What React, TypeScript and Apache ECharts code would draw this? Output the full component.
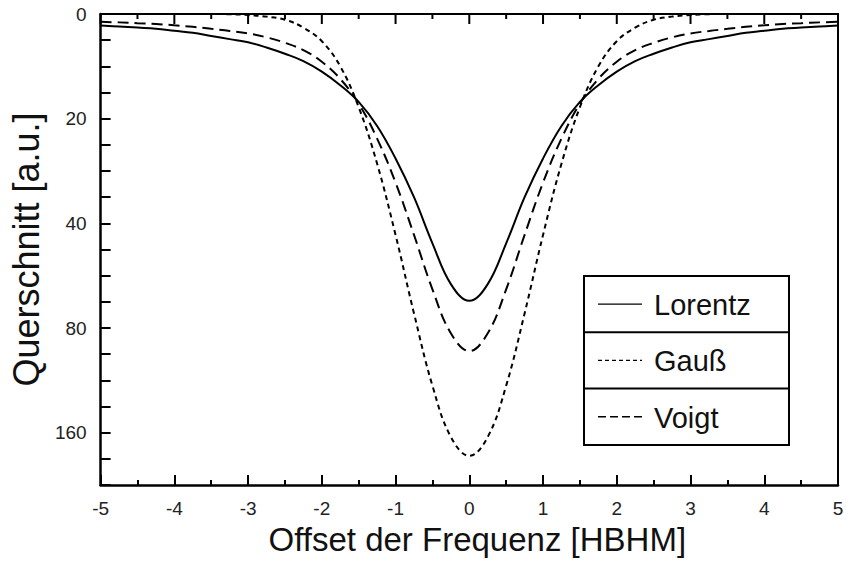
import React, { useEffect, useRef } from "react";
import * as echarts from "echarts";

const xs = [
  -5, -4.75, -4.5, -4.25, -4, -3.75, -3.5, -3.25, -3, -2.75, -2.5, -2.25, -2, -1.75, -1.5, -1.25, -1, -0.75, -0.5, -0.25,
  0, 0.25, 0.5, 0.75, 1, 1.25, 1.5, 1.75, 2, 2.25, 2.5, 2.75, 3, 3.25, 3.5, 3.75, 4, 4.25, 4.5, 4.75, 5,
];

const lorentz = [
  0.11, 0.12, 0.13, 0.14, 0.16, 0.18, 0.21, 0.24, 0.27, 0.32, 0.38, 0.45, 0.55, 0.68, 0.84, 1.07, 1.38, 1.75, 2.19, 2.58,
  2.74, 2.58, 2.19, 1.75, 1.38, 1.07, 0.84, 0.68, 0.55, 0.45, 0.38, 0.32, 0.27, 0.24, 0.21, 0.18, 0.16, 0.14, 0.13, 0.12, 0.11,
];

const gauss = [
  0, 0, 0, 0, 0, 0, 0, 0.002, 0.01, 0.025, 0.055, 0.13, 0.26, 0.5, 0.89, 1.43, 2.11, 2.86, 3.55, 4.04,
  4.22, 4.04, 3.55, 2.86, 2.11, 1.43, 0.89, 0.5, 0.26, 0.13, 0.055, 0.025, 0.01, 0.002, 0, 0, 0, 0, 0, 0, 0,
];

const voigt = [
  0.075, 0.08, 0.088, 0.095, 0.108, 0.122, 0.142, 0.162, 0.186, 0.223, 0.275, 0.345, 0.456, 0.62, 0.856, 1.19, 1.61, 2.11, 2.63, 3.05,
  3.22, 3.05, 2.63, 2.11, 1.61, 1.19, 0.856, 0.62, 0.456, 0.345, 0.275, 0.223, 0.186, 0.162, 0.142, 0.122, 0.108, 0.095, 0.088, 0.08, 0.075,
];

const yTickLabels = ["0", "20", "40", "80", "160"];
const topTickValues = [-5, -4.5, -4, -3.5, -3, -2.5, -2, -1.5, -1, -0.5, 0, 0.5, 1, 1.5, 2, 2.5, 3, 3.5, 4, 4.5, 5];
const legendNames = ["Lorentz", "Gauß", "Voigt"];

const FONT = "Liberation Sans, Arial, sans-serif";

export default function App() {
  const ref = useRef<HTMLDivElement>(null);

  useEffect(() => {
    if (!ref.current) return;
    const chart = echarts.init(ref.current, null, { renderer: "svg" });

    const toData = (vals: number[]) => xs.map((x, i) => [x, vals[i]]);

    const lineStyles = [
      { type: "solid" as any, width: 2 },
      { type: [5, 4] as any, width: 2 },
      { type: [11, 6] as any, width: 2 },
    ];
    const legendDash = ["solid", [4, 3], [8, 4]];

    const legendLeft = 584;
    const legendTop = 276;
    const legendW = 205;
    const rowH = 56.3;

    const legendElements: any[] = [
      {
        type: "rect",
        shape: { x: legendLeft, y: legendTop, width: legendW, height: rowH * 3 },
        style: { fill: "#fff", stroke: "#000", lineWidth: 2 },
        z: 100,
      },
    ];
    for (let i = 1; i < 3; i++) {
      legendElements.push({
        type: "line",
        shape: { x1: legendLeft, y1: legendTop + rowH * i, x2: legendLeft + legendW, y2: legendTop + rowH * i },
        style: { stroke: "#000", lineWidth: 2 },
        z: 101,
      });
    }
    legendNames.forEach((name, i) => {
      const cy = legendTop + rowH * i + rowH / 2;
      legendElements.push({
        type: "line",
        shape: { x1: 598, y1: cy, x2: 642, y2: cy },
        style: { stroke: "#000", lineWidth: 1.3, lineDash: legendDash[i] },
        z: 102,
      });
      legendElements.push({
        type: "text",
        x: 654,
        y: cy + 1,
        style: {
          text: name,
          fontSize: 29,
          fontFamily: FONT,
          fill: "#111",
          verticalAlign: "middle",
          align: "left",
        },
        z: 102,
      });
    });

    chart.setOption({
      animation: false,
      backgroundColor: "#fff",
      grid: { left: 100, right: 14, top: 14, bottom: 67, containLabel: false },
      xAxis: [
        {
          type: "value",
          min: -5,
          max: 5,
          interval: 1,
          position: "bottom",
          name: "Offset der Frequenz [HBHM]",
          nameLocation: "middle",
          nameGap: 36,
          nameTextStyle: { fontSize: 33, fontFamily: FONT, color: "#111", padding: [0, 0, 0, 16] },
          axisLine: { show: true, onZero: false, lineStyle: { color: "#000", width: 2.5 } },
          axisTick: { show: true, inside: true, length: 10, lineStyle: { color: "#000", width: 2 } },
          minorTick: { show: true, splitNumber: 2, length: 5, lineStyle: { color: "#000", width: 2 } },
          axisLabel: { fontSize: 19, fontFamily: FONT, color: "#222", margin: 14 },
          splitLine: { show: false },
        },
        {
          type: "value",
          min: -5,
          max: 5,
          interval: 1,
          position: "top",
          axisLine: { show: true, lineStyle: { color: "#000", width: 2 } },
          axisTick: { show: false },
          axisLabel: { show: false },
          splitLine: { show: false },
        },
      ],
      yAxis: [
        {
          type: "value",
          inverse: true,
          min: 0,
          max: 4.5,
          interval: 0.25,
          position: "left",
          name: "Querschnitt [a.u.]",
          nameLocation: "middle",
          nameGap: 50,
          nameRotate: 90,
          nameTextStyle: { fontSize: 36, fontFamily: FONT, color: "#111" },
          axisLine: { show: true, onZero: false, lineStyle: { color: "#000", width: 2.5 } },
          axisTick: { show: true, inside: true, length: 10, lineStyle: { color: "#000", width: 2 } },
          axisLabel: {
            fontSize: 19,
            fontFamily: FONT,
            color: "#222",
            margin: 14,
            formatter: (v: number) => {
              if (Number.isInteger(v) && v >= 0 && v < yTickLabels.length) return yTickLabels[v];
              return "";
            },
          },
          splitLine: { show: false },
        },
        {
          type: "value",
          inverse: true,
          min: 0,
          max: 4.5,
          position: "right",
          axisLine: { show: true, onZero: false, lineStyle: { color: "#000", width: 2 } },
          axisTick: { show: false },
          axisLabel: { show: false },
          splitLine: { show: false },
        },
      ],
      series: [
        {
          name: legendNames[0],
          type: "line",
          data: toData(lorentz),
          smooth: 0.4,
          showSymbol: false,
          lineStyle: { color: "#000", ...lineStyles[0] },
        },
        {
          name: legendNames[1],
          type: "line",
          data: toData(gauss),
          smooth: 0.4,
          showSymbol: false,
          lineStyle: { color: "#000", ...lineStyles[1] },
        },
        {
          name: legendNames[2],
          type: "line",
          data: toData(voigt),
          smooth: 0.4,
          showSymbol: false,
          lineStyle: { color: "#000", ...lineStyles[2] },
        },
      ],
      graphic: legendElements,
    });

    // top-edge ticks, positioned through the chart's own x scale
    const tickElements: any[] = [];
    topTickValues.forEach((v) => {
      const p = chart.convertToPixel({ xAxisIndex: 0, yAxisIndex: 0 } as any, [v, 0]) as any;
      if (!p || !isFinite(p[0]) || !isFinite(p[1])) return;
      const len = Number.isInteger(v) ? 10 : 5;
      tickElements.push({
        type: "line",
        shape: { x1: p[0], y1: p[1], x2: p[0], y2: p[1] + len },
        style: { stroke: "#000", lineWidth: 2 },
        z: 50,
        silent: true,
      });
    });
    chart.setOption({ graphic: legendElements.concat(tickElements) });

    return () => chart.dispose();
  }, []);

  return <div ref={ref} style={{ width: 852, height: 561, position: "fixed", left: 0, top: 0 }} />;
}
